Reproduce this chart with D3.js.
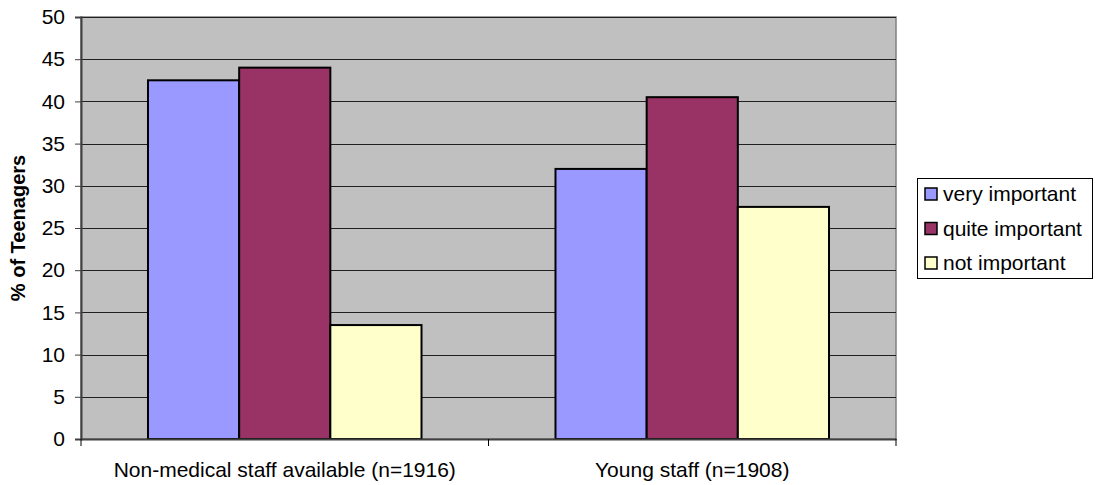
<!DOCTYPE html>
<html>
<head>
<meta charset="utf-8">
<script src="https://cdn.jsdelivr.net/npm/d3@7"></script>
<style>
  body { margin: 0; background: #fff; }
  svg { font-family: Arial, "Liberation Sans", sans-serif; }
</style>
</head>
<body>
<svg id="chart" width="1095" height="485"></svg>
<script>
let categories = ["Non-medical staff available (n=1916)", "Young staff (n=1908)"];
let seriesNames = ["very important", "quite important", "not important"];
let seriesColors = ["#9999FF", "#993366", "#FFFFCC"];
let veryImportant = [42.5, 32];
let quiteImportant = [44, 40.5];
let notImportant = [13.5, 27.5];
let yTicks = [0, 5, 10, 15, 20, 25, 30, 35, 40, 45, 50];

let seriesValues = [veryImportant, quiteImportant, notImportant];

let plot = { left: 81, right: 896, top: 17, bottom: 439 };
let fontFamily = "Arial, 'Liberation Sans', sans-serif";

let svg = d3.select("#chart");

let yScale = d3.scaleLinear()
  .domain([0, 50])
  .range([plot.bottom, plot.top]);

let x0 = d3.scaleBand()
  .domain(categories)
  .range([plot.left, plot.right])
  .padding(0);

let step = x0.bandwidth();
let x1 = d3.scaleBand()
  .domain(seriesNames)
  .range([step * 0.1644, step * 0.8356])
  .padding(0);

// plot background
svg.append("rect")
  .attr("x", plot.left)
  .attr("y", plot.top)
  .attr("width", plot.right - plot.left)
  .attr("height", plot.bottom - plot.top)
  .style("fill", "#C0C0C0")
  .style("stroke", "#808080")
  .style("stroke-width", 1.5);

// gridlines
svg.selectAll(".grid")
  .data(yTicks.slice(1))
  .enter()
  .append("line")
    .attr("x1", plot.left)
    .attr("x2", plot.right)
    .attr("y1", d => Math.round(yScale(d)) + 0.5)
    .attr("y2", d => Math.round(yScale(d)) + 0.5)
    .style("stroke", "#202020")
    .style("stroke-width", 1);

// bars
seriesNames.forEach(function(name, si) {
  svg.selectAll(".bar" + si)
    .data(categories)
    .enter()
    .append("rect")
      .attr("x", d => x0(d) + x1(name))
      .attr("y", (d, i) => yScale(seriesValues[si][i]))
      .attr("width", x1.bandwidth())
      .attr("height", (d, i) => yScale(0) - yScale(seriesValues[si][i]))
      .style("fill", seriesColors[si])
      .style("stroke", "#000")
      .style("stroke-width", 2);
});

// y axis
let yAxis = d3.axisLeft(yScale)
  .tickValues(yTicks)
  .tickSize(6)
  .tickPadding(10);
let yg = svg.append("g")
  .attr("transform", `translate(${plot.left},0)`)
  .call(yAxis);
yg.select(".domain").style("stroke", "#404040").style("stroke-width", 2);
yg.selectAll(".tick line").style("stroke", "#404040");
yg.selectAll("text")
  .style("font-size", "21px")
  .style("fill", "#000")
  .style("font-family", fontFamily);

// x axis
let xAxis = d3.axisBottom(x0)
  .tickValues([])
  .tickSizeOuter(0);
let xg = svg.append("g")
  .attr("transform", `translate(0,${plot.bottom})`)
  .call(xAxis);
xg.select(".domain").style("stroke", "#404040").style("stroke-width", 2);

// category boundary ticks
let boundaries = [plot.left, x0(categories[1]), plot.right];
svg.selectAll(".xtick")
  .data(boundaries)
  .enter()
  .append("line")
    .attr("x1", d => d)
    .attr("x2", d => d)
    .attr("y1", plot.bottom)
    .attr("y2", plot.bottom + 7)
    .style("stroke", "#000")
    .style("stroke-width", 1);

svg.selectAll(".xlabel")
  .data(categories)
  .enter()
  .append("text")
    .attr("x", d => x0(d) + step / 2)
    .attr("y", 477)
    .text(d => d)
    .style("font-size", "21px")
    .style("text-anchor", "middle")
    .style("fill", "#000");

// y title
svg.append("text")
  .attr("transform", "translate(25,228) rotate(-90)")
  .text("% of Teenagers")
  .style("font-size", "20px")
  .style("font-weight", "bold")
  .style("text-anchor", "middle")
  .style("fill", "#000");

// legend
let legend = svg.append("g");
legend.append("rect")
  .attr("x", 917.5)
  .attr("y", 178.5)
  .attr("width", 175)
  .attr("height", 100)
  .style("fill", "#fff")
  .style("stroke", "#000")
  .style("stroke-width", 1);

let legendY = d3.scalePoint()
  .domain(seriesNames)
  .range([201, 270]);

seriesNames.forEach(function(name, i) {
  legend.append("rect")
    .attr("x", 925)
    .attr("y", legendY(name) - 13)
    .attr("width", 12)
    .attr("height", 12)
    .style("fill", seriesColors[i])
    .style("stroke", "#000")
    .style("stroke-width", 1.5);
  legend.append("text")
    .attr("x", 943)
    .attr("y", legendY(name))
    .text(name)
    .style("font-size", "21px")
    .style("fill", "#000");
});
</script>
</body>
</html>
